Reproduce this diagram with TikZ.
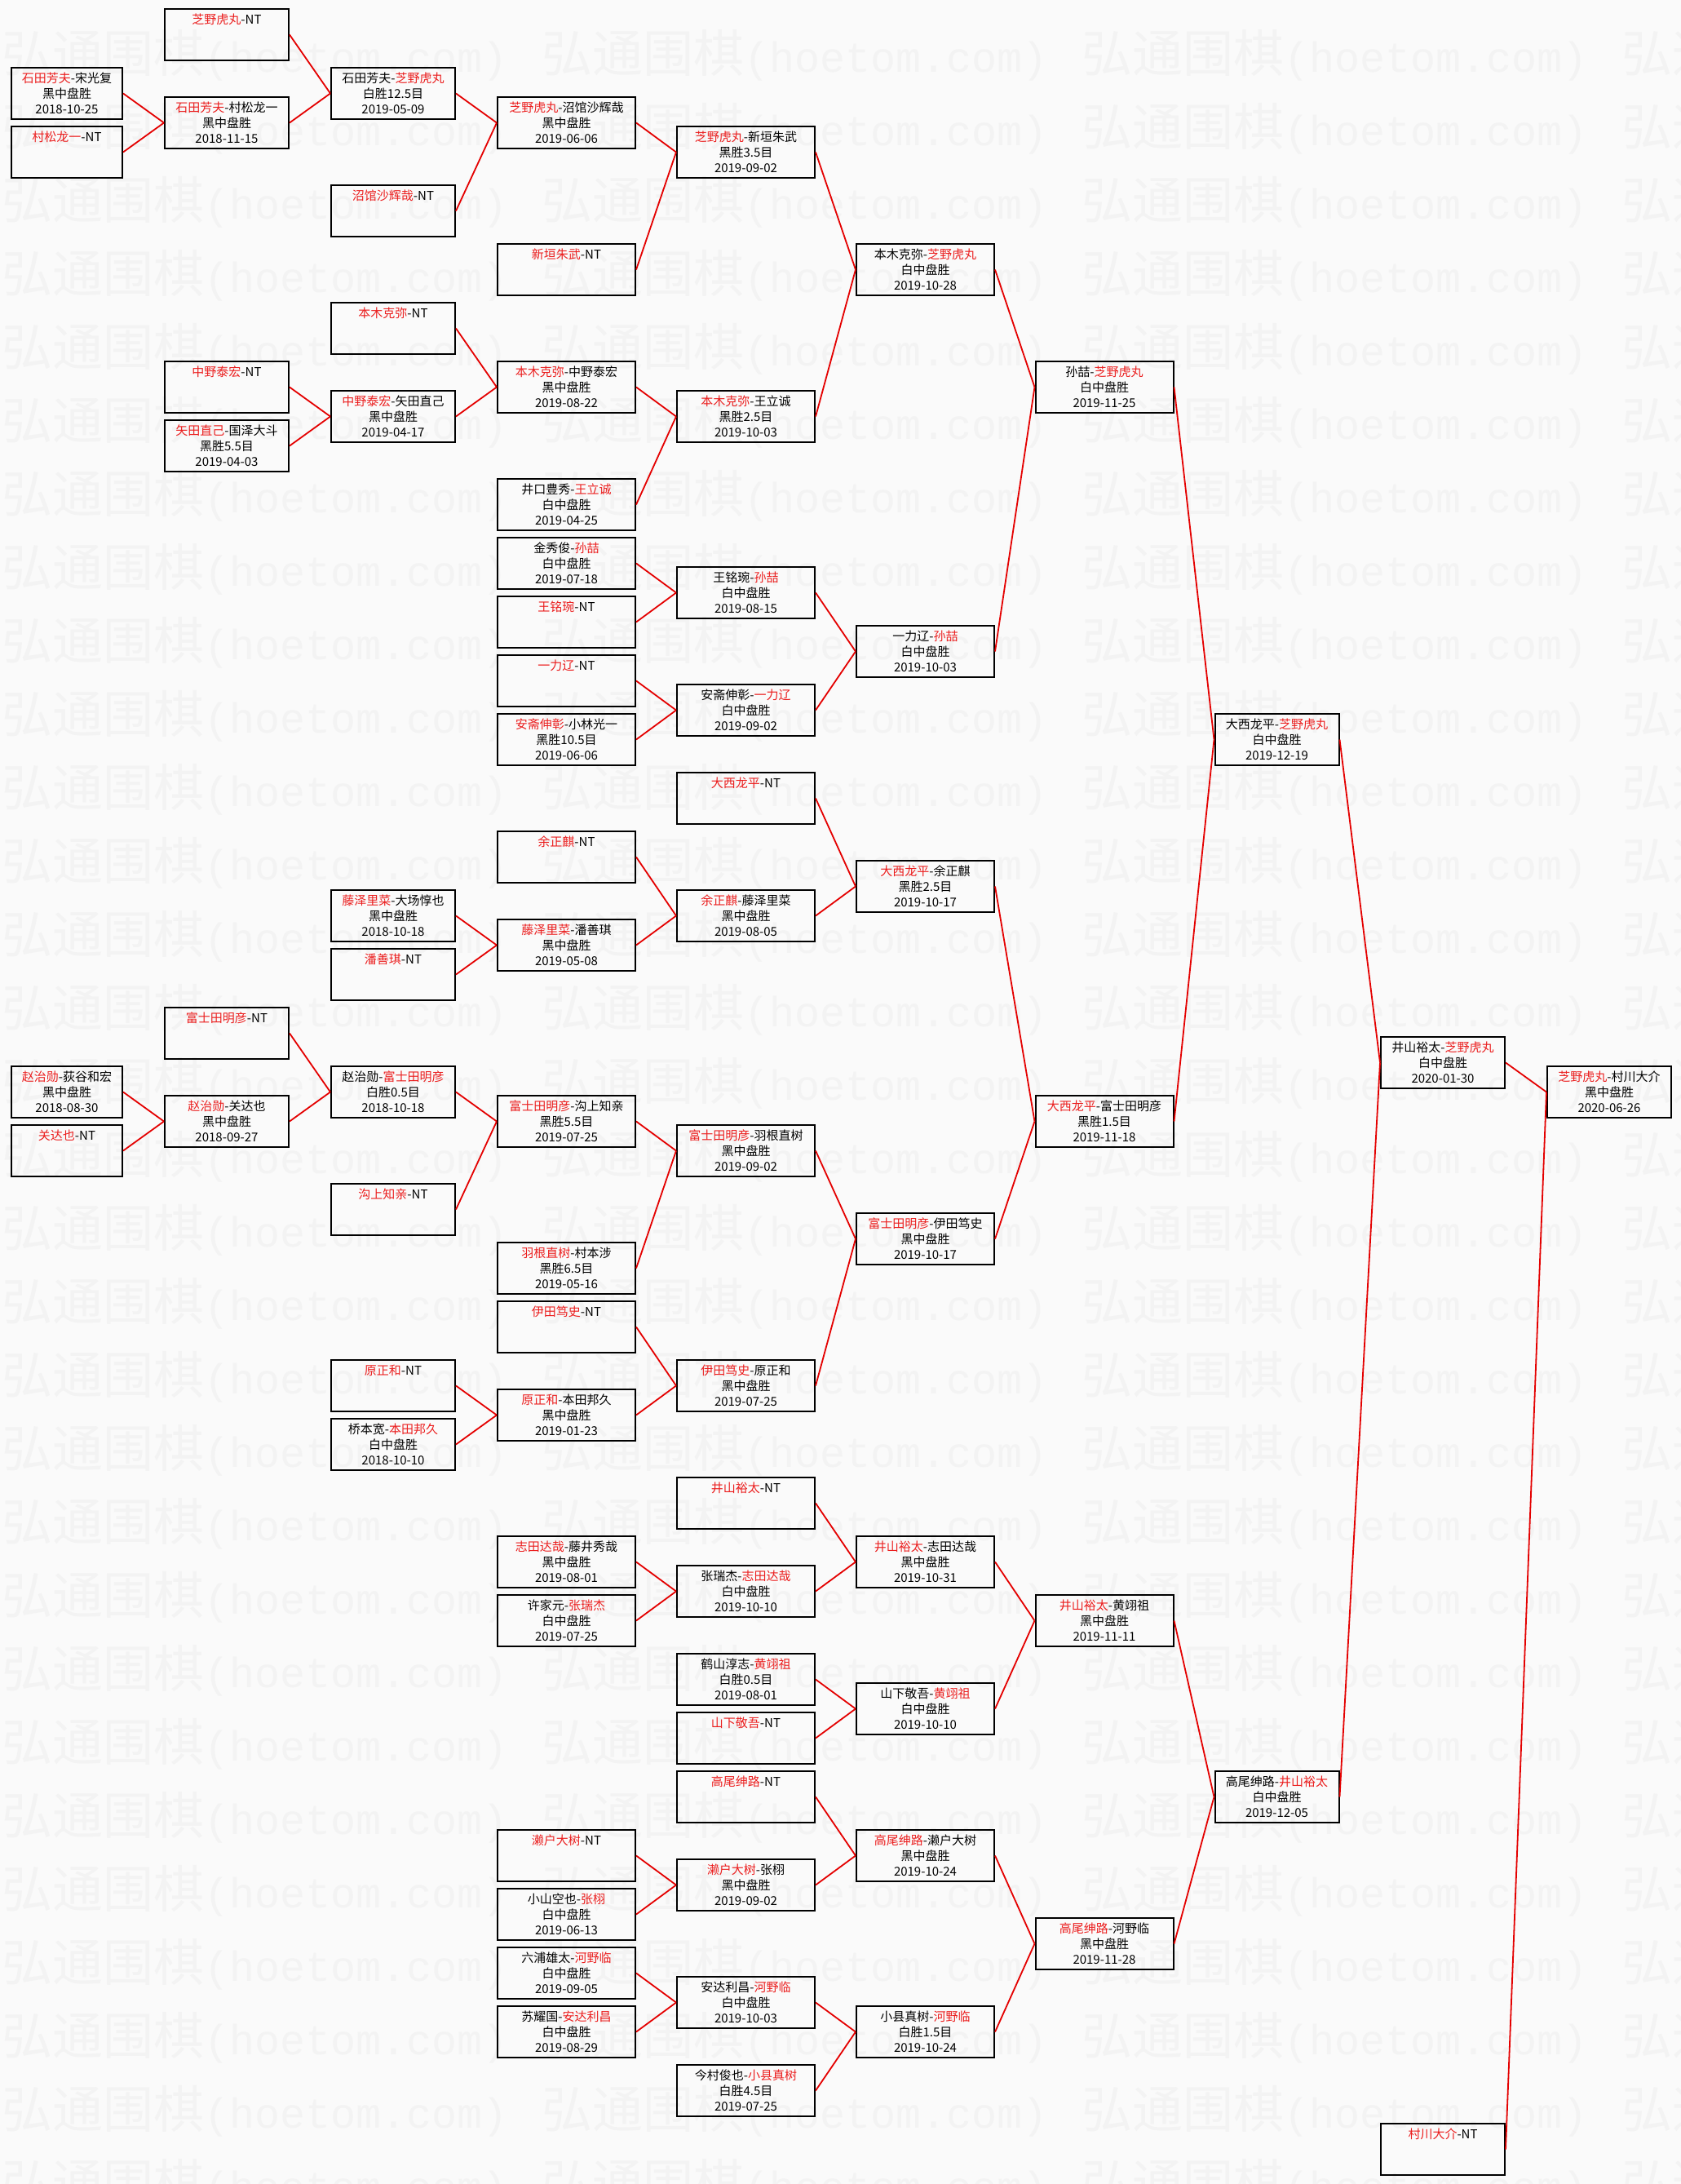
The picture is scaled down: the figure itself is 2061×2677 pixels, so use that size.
\documentclass[tikz,border=0pt]{standalone}
\usepackage{fontspec}
\setmainfont{Noto Sans CJK SC}
\newfontfamily\stampmono{Liberation Mono}
\usepackage{xcolor}
\usepackage{tikz}

\definecolor{pagebg}{RGB}{250,250,250}
\definecolor{stampgray}{RGB}{243,243,243}
\definecolor{winred}{RGB}{235,30,30}
\definecolor{linered}{RGB}{228,0,0}

\newcommand{\bwin}[4]{\textcolor{winred}{#1}-#2\\#3\\#4}
\newcommand{\wwin}[4]{#1-\textcolor{winred}{#2}\\#3\\#4}
\newcommand{\byenode}[1]{\textcolor{winred}{#1}-NT\\\phantom{0}\\\phantom{0}}

\begin{document}
\begin{tikzpicture}[x=1pt, y=-36pt,
  game/.style={draw, line width=2pt, minimum height=63pt, inner sep=0pt, anchor=north, align=center, font=\fontsize{15}{19}\selectfont},
  narrow/.style={game, minimum width=136pt},
  mid/.style={game, minimum width=152pt},
  wide/.style={game, minimum width=169pt},
  link/.style={linered, line width=1.8pt},
  stamp/.style={anchor=west, inner sep=0pt, text=stampgray, font=\fontsize{62}{62}\selectfont},
]

\useasboundingbox (0pt,10pt) rectangle (2061pt,-2667pt);
\fill[pagebg] (0pt,10pt) rectangle (2061pt,-2667pt);
\begin{scope}
\clip (0pt,10pt) rectangle (2061pt,-2667pt);
\foreach \r in {0,...,29}
  \foreach \c in {0,...,3}
    \node[stamp] at ({2pt+662pt*\c}, {-57.8pt-90pt*\r}) {弘通围棋{\fontsize{51.7}{52}\stampmono(hoetom.com)}};
\end{scope}

\node[narrow] (c0a) at (82,2) {\bwin{石田芳夫}{宋光复}{黑中盘胜}{2018-10-25}};
\node[narrow] (c0b) at (82,4) {\byenode{村松龙一}};
\node[narrow] (c0c) at (82,36) {\bwin{赵治勋}{荻谷和宏}{黑中盘胜}{2018-08-30}};
\node[narrow] (c0d) at (82,38) {\byenode{关达也}};

\node[mid] (c1a) at (278,0) {\byenode{芝野虎丸}};
\node[mid] (c1b) at (278,3) {\bwin{石田芳夫}{村松龙一}{黑中盘胜}{2018-11-15}};
\node[mid] (c1c) at (278,12) {\byenode{中野泰宏}};
\node[mid] (c1d) at (278,14) {\bwin{矢田直己}{国泽大斗}{黑胜5.5目}{2019-04-03}};
\node[mid] (c1e) at (278,34) {\byenode{富士田明彦}};
\node[mid] (c1f) at (278,37) {\bwin{赵治勋}{关达也}{黑中盘胜}{2018-09-27}};

\node[mid] (c2a) at (482,2) {\wwin{石田芳夫}{芝野虎丸}{白胜12.5目}{2019-05-09}};
\node[mid] (c2b) at (482,6) {\byenode{沼馆沙辉哉}};
\node[mid] (c2c) at (482,10) {\byenode{本木克弥}};
\node[mid] (c2d) at (482,13) {\bwin{中野泰宏}{矢田直己}{黑中盘胜}{2019-04-17}};
\node[mid] (c2e) at (482,30) {\bwin{藤泽里菜}{大场惇也}{黑中盘胜}{2018-10-18}};
\node[mid] (c2f) at (482,32) {\byenode{潘善琪}};
\node[mid] (c2g) at (482,36) {\wwin{赵治勋}{富士田明彦}{白胜0.5目}{2018-10-18}};
\node[mid] (c2h) at (482,40) {\byenode{沟上知亲}};
\node[mid] (c2i) at (482,46) {\byenode{原正和}};
\node[mid] (c2j) at (482,48) {\wwin{桥本宽}{本田邦久}{白中盘胜}{2018-10-10}};

\node[wide] (c3a) at (694.5,3) {\bwin{芝野虎丸}{沼馆沙辉哉}{黑中盘胜}{2019-06-06}};
\node[wide] (c3b) at (694.5,8) {\byenode{新垣朱武}};
\node[wide] (c3c) at (694.5,12) {\bwin{本木克弥}{中野泰宏}{黑中盘胜}{2019-08-22}};
\node[wide] (c3d) at (694.5,16) {\wwin{井口豊秀}{王立诚}{白中盘胜}{2019-04-25}};
\node[wide] (c3e) at (694.5,18) {\wwin{金秀俊}{孙喆}{白中盘胜}{2019-07-18}};
\node[wide] (c3f) at (694.5,20) {\byenode{王铭琬}};
\node[wide] (c3g) at (694.5,22) {\byenode{一力辽}};
\node[wide] (c3h) at (694.5,24) {\bwin{安斋伸彰}{小林光一}{黑胜10.5目}{2019-06-06}};
\node[wide] (c3i) at (694.5,28) {\byenode{余正麒}};
\node[wide] (c3j) at (694.5,31) {\bwin{藤泽里菜}{潘善琪}{黑中盘胜}{2019-05-08}};
\node[wide] (c3k) at (694.5,37) {\bwin{富士田明彦}{沟上知亲}{黑胜5.5目}{2019-07-25}};
\node[wide] (c3l) at (694.5,42) {\bwin{羽根直树}{村本涉}{黑胜6.5目}{2019-05-16}};
\node[wide] (c3m) at (694.5,44) {\byenode{伊田笃史}};
\node[wide] (c3n) at (694.5,47) {\bwin{原正和}{本田邦久}{黑中盘胜}{2019-01-23}};
\node[wide] (c3o) at (694.5,52) {\bwin{志田达哉}{藤井秀哉}{黑中盘胜}{2019-08-01}};
\node[wide] (c3p) at (694.5,54) {\wwin{许家元}{张瑞杰}{白中盘胜}{2019-07-25}};
\node[wide] (c3q) at (694.5,62) {\byenode{濑户大树}};
\node[wide] (c3r) at (694.5,64) {\wwin{小山空也}{张栩}{白中盘胜}{2019-06-13}};
\node[wide] (c3s) at (694.5,66) {\wwin{六浦雄太}{河野临}{白中盘胜}{2019-09-05}};
\node[wide] (c3t) at (694.5,68) {\wwin{苏耀国}{安达利昌}{白中盘胜}{2019-08-29}};

\node[wide] (c4a) at (914.5,4) {\bwin{芝野虎丸}{新垣朱武}{黑胜3.5目}{2019-09-02}};
\node[wide] (c4b) at (914.5,13) {\bwin{本木克弥}{王立诚}{黑胜2.5目}{2019-10-03}};
\node[wide] (c4c) at (914.5,19) {\wwin{王铭琬}{孙喆}{白中盘胜}{2019-08-15}};
\node[wide] (c4d) at (914.5,23) {\wwin{安斋伸彰}{一力辽}{白中盘胜}{2019-09-02}};
\node[wide] (c4e) at (914.5,26) {\byenode{大西龙平}};
\node[wide] (c4f) at (914.5,30) {\bwin{余正麒}{藤泽里菜}{黑中盘胜}{2019-08-05}};
\node[wide] (c4g) at (914.5,38) {\bwin{富士田明彦}{羽根直树}{黑中盘胜}{2019-09-02}};
\node[wide] (c4h) at (914.5,46) {\bwin{伊田笃史}{原正和}{黑中盘胜}{2019-07-25}};
\node[wide] (c4i) at (914.5,50) {\byenode{井山裕太}};
\node[wide] (c4j) at (914.5,53) {\wwin{张瑞杰}{志田达哉}{白中盘胜}{2019-10-10}};
\node[wide] (c4k) at (914.5,56) {\wwin{鹤山淳志}{黄翊祖}{白胜0.5目}{2019-08-01}};
\node[wide] (c4l) at (914.5,58) {\byenode{山下敬吾}};
\node[wide] (c4m) at (914.5,60) {\byenode{高尾绅路}};
\node[wide] (c4n) at (914.5,63) {\bwin{濑户大树}{张栩}{黑中盘胜}{2019-09-02}};
\node[wide] (c4o) at (914.5,67) {\wwin{安达利昌}{河野临}{白中盘胜}{2019-10-03}};
\node[wide] (c4p) at (914.5,70) {\wwin{今村俊也}{小县真树}{白胜4.5目}{2019-07-25}};

\node[wide] (c5a) at (1134.5,8) {\wwin{本木克弥}{芝野虎丸}{白中盘胜}{2019-10-28}};
\node[wide] (c5b) at (1134.5,21) {\wwin{一力辽}{孙喆}{白中盘胜}{2019-10-03}};
\node[wide] (c5c) at (1134.5,29) {\bwin{大西龙平}{余正麒}{黑胜2.5目}{2019-10-17}};
\node[wide] (c5d) at (1134.5,41) {\bwin{富士田明彦}{伊田笃史}{黑中盘胜}{2019-10-17}};
\node[wide] (c5e) at (1134.5,52) {\bwin{井山裕太}{志田达哉}{黑中盘胜}{2019-10-31}};
\node[wide] (c5f) at (1134.5,57) {\wwin{山下敬吾}{黄翊祖}{白中盘胜}{2019-10-10}};
\node[wide] (c5g) at (1134.5,62) {\bwin{高尾绅路}{濑户大树}{黑中盘胜}{2019-10-24}};
\node[wide] (c5h) at (1134.5,68) {\wwin{小县真树}{河野临}{白胜1.5目}{2019-10-24}};

\node[wide] (c6a) at (1354,12) {\wwin{孙喆}{芝野虎丸}{白中盘胜}{2019-11-25}};
\node[wide] (c6b) at (1354,37) {\bwin{大西龙平}{富士田明彦}{黑胜1.5目}{2019-11-18}};
\node[wide] (c6c) at (1354,54) {\bwin{井山裕太}{黄翊祖}{黑中盘胜}{2019-11-11}};
\node[wide] (c6d) at (1354,65) {\bwin{高尾绅路}{河野临}{黑中盘胜}{2019-11-28}};

\node[mid] (c7a) at (1565.5,24) {\wwin{大西龙平}{芝野虎丸}{白中盘胜}{2019-12-19}};
\node[mid] (c7b) at (1565.5,60) {\wwin{高尾绅路}{井山裕太}{白中盘胜}{2019-12-05}};

\node[mid] (c8a) at (1769,35) {\wwin{井山裕太}{芝野虎丸}{白中盘胜}{2020-01-30}};
\node[mid] (c8b) at (1769,72) {\byenode{村川大介}};

\node[mid] (c9a) at (1973,36) {\bwin{芝野虎丸}{村川大介}{黑中盘胜}{2020-06-26}};

\draw[link] (c0a.east) -- (c1b.west);
\draw[link] (c0b.east) -- (c1b.west);
\draw[link] (c0c.east) -- (c1f.west);
\draw[link] (c0d.east) -- (c1f.west);

\draw[link] (c1a.east) -- (c2a.west);
\draw[link] (c1b.east) -- (c2a.west);
\draw[link] (c1c.east) -- (c2d.west);
\draw[link] (c1d.east) -- (c2d.west);
\draw[link] (c1e.east) -- (c2g.west);
\draw[link] (c1f.east) -- (c2g.west);

\draw[link] (c2a.east) -- (c3a.west);
\draw[link] (c2b.east) -- (c3a.west);
\draw[link] (c2c.east) -- (c3c.west);
\draw[link] (c2d.east) -- (c3c.west);
\draw[link] (c2e.east) -- (c3j.west);
\draw[link] (c2f.east) -- (c3j.west);
\draw[link] (c2g.east) -- (c3k.west);
\draw[link] (c2h.east) -- (c3k.west);
\draw[link] (c2i.east) -- (c3n.west);
\draw[link] (c2j.east) -- (c3n.west);

\draw[link] (c3a.east) -- (c4a.west);
\draw[link] (c3b.east) -- (c4a.west);
\draw[link] (c3c.east) -- (c4b.west);
\draw[link] (c3d.east) -- (c4b.west);
\draw[link] (c3e.east) -- (c4c.west);
\draw[link] (c3f.east) -- (c4c.west);
\draw[link] (c3g.east) -- (c4d.west);
\draw[link] (c3h.east) -- (c4d.west);
\draw[link] (c3i.east) -- (c4f.west);
\draw[link] (c3j.east) -- (c4f.west);
\draw[link] (c3k.east) -- (c4g.west);
\draw[link] (c3l.east) -- (c4g.west);
\draw[link] (c3m.east) -- (c4h.west);
\draw[link] (c3n.east) -- (c4h.west);
\draw[link] (c3o.east) -- (c4j.west);
\draw[link] (c3p.east) -- (c4j.west);
\draw[link] (c3q.east) -- (c4n.west);
\draw[link] (c3r.east) -- (c4n.west);
\draw[link] (c3s.east) -- (c4o.west);
\draw[link] (c3t.east) -- (c4o.west);

\draw[link] (c4a.east) -- (c5a.west);
\draw[link] (c4b.east) -- (c5a.west);
\draw[link] (c4c.east) -- (c5b.west);
\draw[link] (c4d.east) -- (c5b.west);
\draw[link] (c4e.east) -- (c5c.west);
\draw[link] (c4f.east) -- (c5c.west);
\draw[link] (c4g.east) -- (c5d.west);
\draw[link] (c4h.east) -- (c5d.west);
\draw[link] (c4i.east) -- (c5e.west);
\draw[link] (c4j.east) -- (c5e.west);
\draw[link] (c4k.east) -- (c5f.west);
\draw[link] (c4l.east) -- (c5f.west);
\draw[link] (c4m.east) -- (c5g.west);
\draw[link] (c4n.east) -- (c5g.west);
\draw[link] (c4o.east) -- (c5h.west);
\draw[link] (c4p.east) -- (c5h.west);

\draw[link] (c5a.east) -- (c6a.west);
\draw[link] (c5b.east) -- (c6a.west);
\draw[link] (c5c.east) -- (c6b.west);
\draw[link] (c5d.east) -- (c6b.west);
\draw[link] (c5e.east) -- (c6c.west);
\draw[link] (c5f.east) -- (c6c.west);
\draw[link] (c5g.east) -- (c6d.west);
\draw[link] (c5h.east) -- (c6d.west);

\draw[link] (c6a.east) -- (c7a.west);
\draw[link] (c6b.east) -- (c7a.west);
\draw[link] (c6c.east) -- (c7b.west);
\draw[link] (c6d.east) -- (c7b.west);

\draw[link] (c7a.east) -- (c8a.west);
\draw[link] (c7b.east) -- (c8a.west);

\draw[link] (c8a.east) -- (c9a.west);
\draw[link] (c8b.east) -- (c9a.west);

\end{tikzpicture}
\end{document}
